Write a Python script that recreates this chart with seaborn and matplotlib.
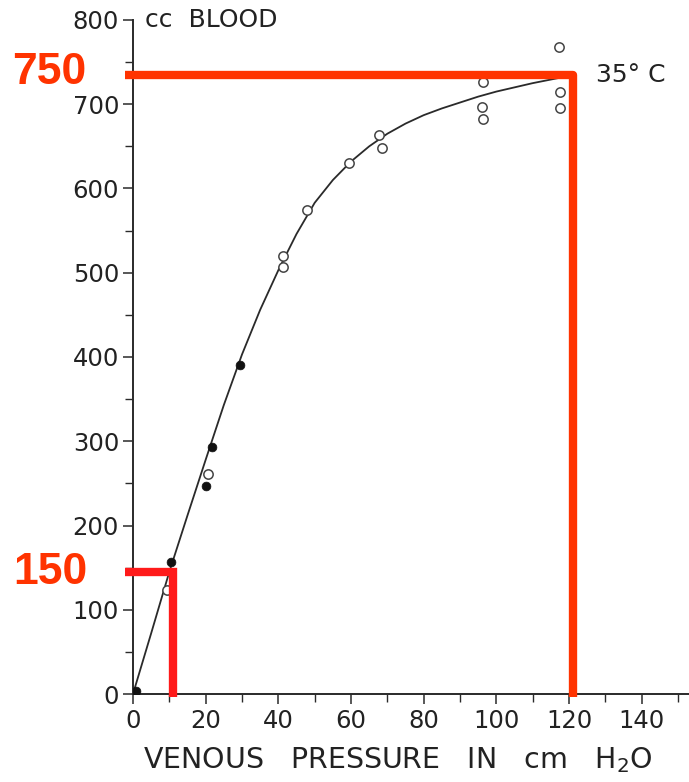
import matplotlib
matplotlib.use("Agg")
import matplotlib.pyplot as plt
import seaborn as sns
import numpy as np
import pandas as pd
from matplotlib.ticker import MultipleLocator

# ---- data ----
curve_x = [0, 5, 10, 15, 20, 25, 30, 35, 40, 45, 50, 55, 60, 65, 70, 75, 80, 85, 90, 95, 100, 105, 110, 117]
curve_y = [0, 72, 145, 212, 278, 343, 403, 456, 503, 546, 583, 610, 632, 650, 665, 677, 687, 695, 702, 709, 715, 720, 725, 731]

open_x = [9.4, 20.7, 41.3, 41.3, 47.9, 59.5, 67.8, 68.6, 96.4, 96.1, 96.4, 117.1, 117.6, 117.6]
open_y = [123, 261, 520, 507, 574, 630, 663, 648, 726, 697, 682, 768, 714, 696]

filled_x = [0.8, 10.5, 20.1, 21.8, 29.5]
filled_y = [3, 157, 247, 293, 390]

ref_hi_x, ref_hi_y = 121.2, 734.7
ref_lo_x, ref_lo_y = 11.0, 144.8
ref_labels = ["750", "150"]

x_ticks = [0, 20, 40, 60, 80, 100, 120, 140]
y_ticks = [0, 100, 200, 300, 400, 500, 600, 700, 800]

sns.set_theme(style="ticks")
plt.rcParams['font.family'] = ['DejaVu Sans']

fig = plt.figure(figsize=(6.89, 7.82), dpi=100)
ax = fig.add_axes([0.193, 0.1125, 0.807, 0.862])

ink = "#2a2a2a"
sns.lineplot(x=curve_x, y=curve_y, ax=ax, color=ink, linewidth=1.3, sort=False)
sns.scatterplot(x=open_x, y=open_y, ax=ax, marker="o", s=45, facecolor="white",
                edgecolor="#444444", linewidth=1.1, zorder=4)
sns.scatterplot(x=filled_x, y=filled_y, ax=ax, marker="o", s=40, color="#111111",
                edgecolor="#111111", zorder=4)

ax.set_xlim(0, 153)
ax.set_ylim(0, 800)
ax.set_xticks(x_ticks)
ax.set_yticks(y_ticks)
ax.xaxis.set_minor_locator(MultipleLocator(10))
ax.yaxis.set_minor_locator(MultipleLocator(50))
ax.tick_params(axis="both", which="major", direction="out", length=7, width=1.1,
               colors=ink, labelsize=17.5, labelcolor="#222222")
ax.tick_params(axis="both", which="minor", direction="out", length=6, width=1.0, colors=ink)
ax.tick_params(axis="y", pad=3)
ax.tick_params(axis="x", pad=4)
for s in ["top", "right"]:
    ax.spines[s].set_visible(False)
for s in ["left", "bottom"]:
    ax.spines[s].set_color(ink)
    ax.spines[s].set_linewidth(1.4)
ax.set_xlabel("")
ax.set_ylabel("")

ax.text(3.3, 800, "cc  BLOOD", fontsize=18, color="#222222", va="center", ha="left")
ax.text(127.5, 735, "35° C", fontsize=18, color="#222222", va="center", ha="left")

fig.text(398 / 689, 1 - 760 / 782, r"VENOUS   PRESSURE   IN   cm   H$_2$O",
         fontsize=20.5, color="#222222", ha="center", va="center")

# red reference lines
hi_col = "#ff3300"
lo_col = "#ff1a1a"
ax.plot([-2.2, ref_hi_x, ref_hi_x], [ref_hi_y, ref_hi_y, -3.6], color=hi_col, lw=6,
        solid_joinstyle="round", solid_capstyle="butt", clip_on=False, zorder=6)
ax.plot([-2.2, ref_lo_x, ref_lo_x], [ref_lo_y, ref_lo_y, -3.6], color=lo_col, lw=6,
        solid_joinstyle="miter", solid_capstyle="butt", clip_on=False, zorder=6)

fig.text(49 / 689, 1 - 73 / 782, ref_labels[0], fontsize=32, fontweight="bold",
         family=["Liberation Sans"], color=hi_col, ha="center", va="center")
fig.text(50 / 689, 1 - 572 / 782, ref_labels[1], fontsize=32, fontweight="bold",
         family=["Liberation Sans"], color=hi_col, ha="center", va="center")

fig.savefig("out.png", dpi=100)
